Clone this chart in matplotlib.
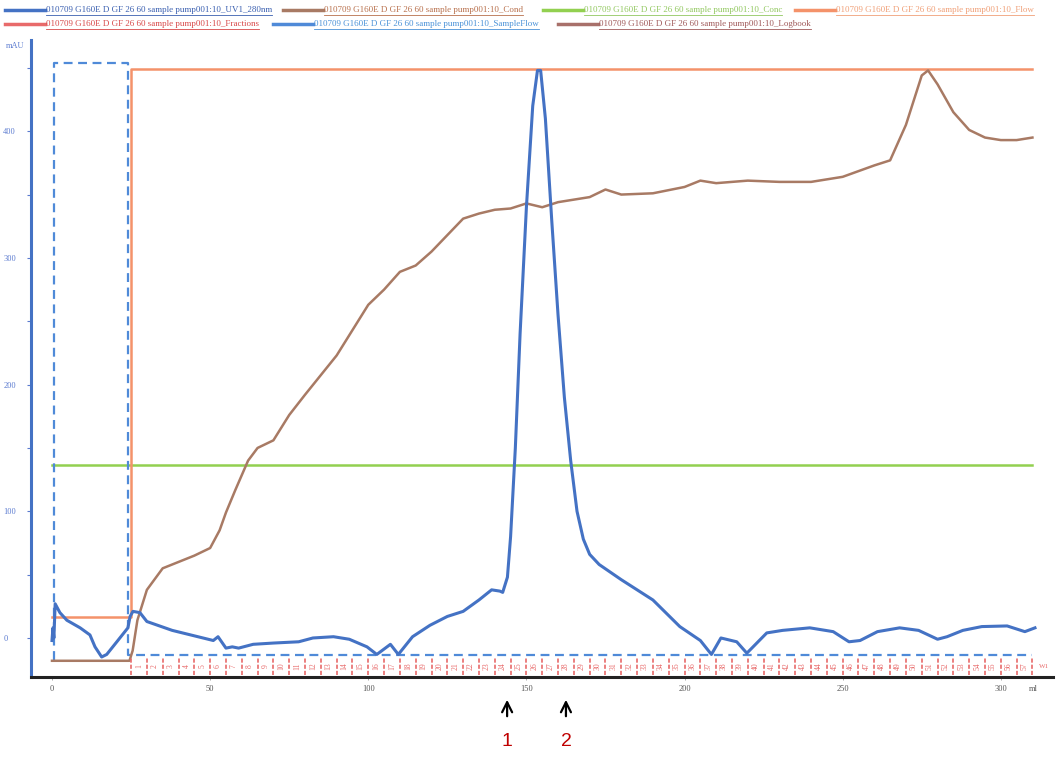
import numpy as np
import matplotlib
matplotlib.use("Agg")
import matplotlib.pyplot as plt
import matplotlib.transforms as mtransforms

# ---- data ----
uv_x = [0, 0.3, 0.6, 1, 2.5, 4.7, 8.9, 12, 13.6, 15.7, 17.3, 20.5, 24, 24.7, 25.6, 27.8,
        30, 38, 51, 52.5, 55, 57, 59, 63.6, 70, 78, 82.5, 89, 94, 99.6, 102.7, 107,
        109.5, 114, 119.5, 125, 130, 135, 139, 141.6, 142.5, 144, 145, 146.5, 148, 150,
        152, 153.5, 154.5, 156, 158, 160, 162, 164, 166, 168, 170, 173, 180, 190,
        198.5, 205, 208.5, 211.5, 216.5, 219.7, 226, 231, 239.6, 247, 252, 255.5, 261,
        268, 274, 280, 283, 288, 294, 302, 307.6, 310.8]
uv_y = [-2, 8, 0, 27, 20, 14, 8, 2.4, -7, -15, -13, -3, 8, 17, 21, 20,
        13, 6, -2, 1, -8, -7, -8, -5, -4, -3, 0, 1, -1, -7, -13, -5,
        -13, 1, 10, 17, 21, 30, 38, 37, 36, 48, 80, 150, 240, 340,
        420, 448, 448, 410, 330, 255, 190, 140, 100, 78, 66, 58, 46, 30,
        9, -2, -13, 0, -3, -12, 4, 6, 8, 5, -3, -2, 5,
        8, 6, -1, 1, 6, 9, 9.5, 5, 8]

cond_x = [0, 24.5, 25.5, 27, 30, 35, 40, 45, 50, 53, 55, 58, 62, 65, 70, 75, 80, 90,
          100, 105, 110, 115, 120, 125, 130, 135, 140, 145, 150, 155, 160, 165, 170,
          175, 180, 190, 200, 205, 210, 220, 230, 240, 250, 260, 265, 270, 275, 277,
          280, 285, 290, 295, 300, 305, 310]
cond_y = [-18, -18, -10, 14, 38, 55, 60, 65, 71, 85, 99, 117, 140, 150, 156, 176, 192, 223,
          263, 275, 289, 294, 305, 318, 331, 335, 338, 339, 343, 340, 344, 346, 348,
          354, 350, 351, 356, 361, 359, 361, 360, 360, 364, 373, 377, 405, 444, 448,
          437, 415, 401, 395, 393, 393, 395]

conc_x = [0, 310]
conc_y = [136.5, 136.5]

flow_x = [0, 25, 25, 310]
flow_y = [16.6, 16.6, 449, 449]

sflow_x = [0.6, 0.6, 24, 24, 310]
sflow_y = [-17, 454, 454, -13.4, -13.4]

frac_edges = list(range(25, 311, 5))

xticks = [0, 50, 100, 150, 200, 250, 300]
yticks = [0, 100, 200, 300, 400]
arrow_x = [143.9, 162.5]
arrow_labels = ["1", "2"]

prefix = "010709 G160E D GF 26 60 sample pump001:10_"
legend_rows = [
    [("UV1_280nm", "#4472C4", "#3a5fb0", 5),
     ("Cond", "#a87a64", "#b8704c", 283),
     ("Conc", "#92d050", "#92c860", 543),
     ("Flow", "#f4926a", "#f0a078", 795)],
    [("Fractions", "#e86a6a", "#d84848", 5),
     ("SampleFlow", "#4f8ad8", "#4a92d8", 273),
     ("Logbook", "#a8706a", "#a05a5a", 558)],
]

c_uv = "#4472C4"
c_cond = "#a87a64"
c_conc = "#92d050"
c_flow = "#f4926a"
c_frac = "#e86a6a"
c_sflow = "#4f8ad8"

W, H = 1061, 758
fig = plt.figure(figsize=(W / 100, H / 100), dpi=100)
ax = fig.add_axes([31 / W, 1 - 677 / H, (1053 - 31) / W, (677 - 40) / H])
ax.set_xlim(-6.64, 316.5)
ax.set_ylim(-30.8, 472)

ax.plot(conc_x, conc_y, color=c_conc, lw=1.8)
ax.plot(flow_x, flow_y, color=c_flow, lw=1.8)
ax.plot(sflow_x, sflow_y, color=c_sflow, lw=1.6, ls=(0, (4, 2.5)))
ax.plot(cond_x, cond_y, color=c_cond, lw=1.8)
ax.plot(uv_x, uv_y, color=c_uv, lw=2.2)

# fraction marks along the bottom
for i, e in enumerate(frac_edges):
    ax.plot([e, e], [-29.5, -15.5], color=c_frac, lw=1.2, ls=(0, (2.5, 1.2)))
    if i < len(frac_edges) - 1:
        ax.text(e + 2.5, -22.5, str(i + 1), color=c_frac, fontsize=5.5,
                family="Liberation Serif", rotation=90, ha="center", va="center")
ax.text(frac_edges[-1] + 2, -22.5, "W1", color=c_frac, fontsize=5,
        family="Liberation Serif", ha="left", va="center")

for s in ["top", "right"]:
    ax.spines[s].set_visible(False)
ax.spines["left"].set_color(c_uv)
ax.spines["left"].set_linewidth(2.2)
ax.spines["bottom"].set_color("#222222")
ax.spines["bottom"].set_linewidth(2.2)

ax.set_xticks(xticks)
ax.set_xticklabels([str(v) for v in xticks], family="Liberation Serif",
                   fontsize=6, color="#555555")
ax.set_yticks(yticks)
ax.set_yticklabels([str(v) for v in yticks], family="Liberation Serif",
                   fontsize=6, color="#5b7bd0", ha="left")
ax.set_yticks([50, 150, 250, 350, 450], minor=True)
ax.tick_params(axis="y", which="both", length=3, width=0.8, color="#5b7bd0", pad=17)
ax.tick_params(axis="x", length=2, width=0.6, color="#999999", pad=4)

fig.text(6 / W, 1 - 46 / H, "mAU", family="Liberation Serif", fontsize=6,
         color="#5b7bd0", va="center")
fig.text(1029 / W, 1 - 689 / H, "ml", family="Liberation Serif", fontsize=6,
         color="#555555", va="center")

# arrows marking pooled fractions
tr = mtransforms.blended_transform_factory(ax.transData, fig.transFigure)
for xa, lab in zip(arrow_x, arrow_labels):
    ax.annotate("", xy=(xa, 1 - 697 / H), xytext=(xa, 1 - 719 / H), xycoords=tr,
                textcoords=tr, annotation_clip=False,
                arrowprops=dict(arrowstyle="->", color="black", lw=1.6,
                                mutation_scale=18))
    ax.text(xa, 1 - 741 / H, lab, transform=tr, color="#c00000", fontsize=14,
            family="Liberation Sans", ha="center", va="center")

# legend drawn across the top
renderer = fig.canvas.get_renderer()
for row, ypx in zip(legend_rows, [10, 24]):
    yf = 1 - ypx / H
    for name, lc, tc, xpx in row:
        fig.add_artist(plt.Line2D([xpx / W, (xpx + 40) / W], [yf, yf], color=lc, lw=2.5))
        t = fig.text((xpx + 41) / W, yf, prefix + name, family="Liberation Serif",
                     fontsize=6.5, color=tc, va="center", ha="left")
        bb = t.get_window_extent(renderer)
        yu = (bb.y0 - 0.5) / H
        fig.add_artist(plt.Line2D([bb.x0 / W, bb.x1 / W], [yu, yu], color=tc, lw=0.6))

fig.savefig("out.png", dpi=100)
